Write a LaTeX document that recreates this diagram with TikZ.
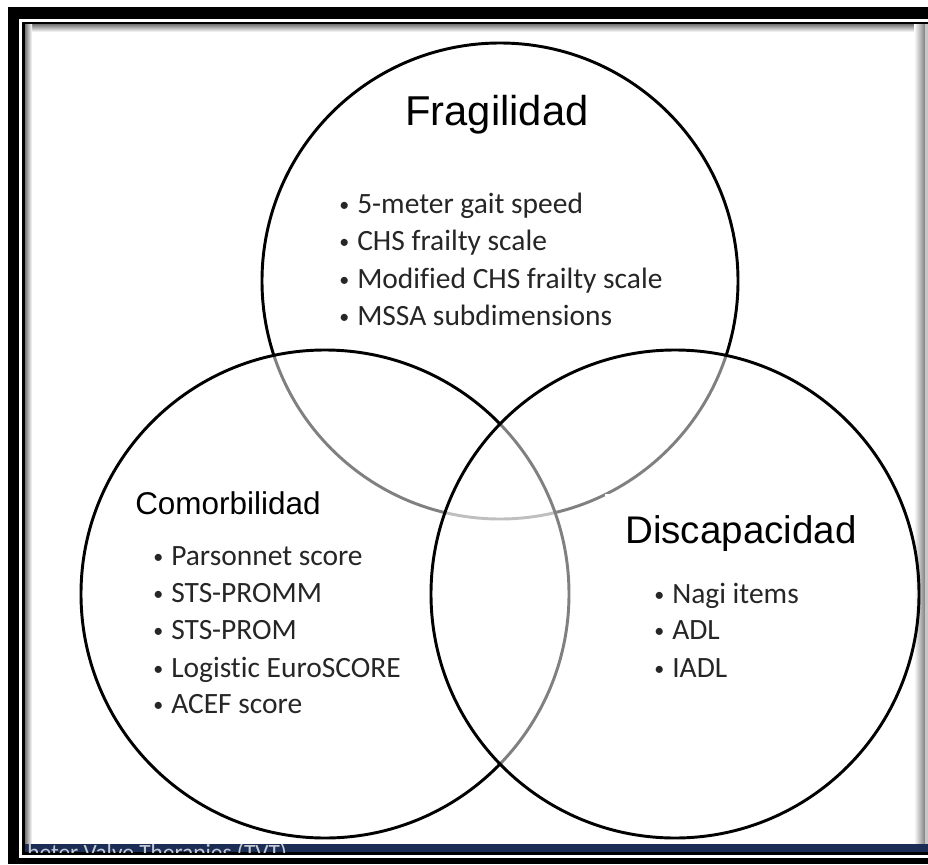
\documentclass[tikz,border=0pt]{standalone}
\usepackage{fontspec}
\setmainfont{Liberation Sans}
\newfontfamily\calfont[Ligatures=CommonOff]{Carlito}
\definecolor{navy}{RGB}{28,45,85}
\definecolor{itemtext}{RGB}{38,38,38}
\newcommand\bul{\llap{\raisebox{1.5pt}{\fontsize{15pt}{15pt}\selectfont\textbullet}\hspace{6pt}}}
\begin{document}
\begin{tikzpicture}[x=0.75pt,y=-0.75pt,
  venn/.style={circle, draw=black, line width=2.2pt, inner sep=0pt, outer sep=0pt},
  vennover/.style={venn, fill=white, fill opacity=0.5, draw opacity=1},
  titlebox/.style={anchor=base west, fill=white, inner xsep=15pt, inner ysep=#1, text=black},
  titlebox/.default=12pt,
  listitem/.style={anchor=base west, inner sep=0pt, text=itemtext, font=\calfont\fontsize{22.1pt}{26pt}\selectfont},
]
\useasboundingbox (0,0) rectangle (928,864);
\fill[white] (0,0) rectangle (928,864);
% frame
\fill[black] (8,7) rectangle (928,864);
\fill[white] (19,19) rectangle (928,858);
\fill[black] (22,22) rectangle (928,855);
\fill[white] (25,25) rectangle (928,852);
\shade[top color=black!55, bottom color=white] (25,24) rectangle (928,32);
\shade[left color=black!55, right color=white] (25,24) rectangle (32,844);
\shade[left color=white, right color=black!50] (914,24) rectangle (925,844);
\fill[black!22] (925,24) rectangle (928,844);
% footer bar
\fill[navy] (25,844) rectangle (928,852);
\begin{scope}
\clip (25,844) rectangle (928,852);
\node[anchor=base west, inner sep=0pt, text=white!75!navy, font=\calfont\fontsize{17.5pt}{20pt}\selectfont] (footer) at (27,860) {heter Valve Therapies (TVT)};
\end{scope}
% circles
\node[venn, minimum size=357pt] (frag) at (500,281) {};
\node[vennover, minimum size=366pt] (comor) at (325,594) {};
\node[vennover, minimum size=366pt] (disc) at (675,594) {};
% titles
\node[titlebox=6pt, font=\fontsize{31.3pt}{36pt}\selectfont] (tfrag) at (385,125) {Fragilidad};
\node[titlebox=13.5pt, font=\fontsize{23.6pt}{28pt}\selectfont] (tcomor) at (115,514) {Comorbilidad};
\node[titlebox=16pt, font=\fontsize{28.9pt}{34pt}\selectfont] (tdisc) at (605,543) {Discapacidad};
% lists
\node[listitem] (f1) at (357,213) {\bul 5-meter gait speed};
\node[listitem] (f2) at (357,250) {\bul CHS frailty scale};
\node[listitem] (f3) at (357,288) {\bul Modified CHS frailty scale};
\node[listitem] (f4) at (357,325) {\bul MSSA subdimensions};
\node[listitem] (c1) at (171,565) {\bul Parsonnet score};
\node[listitem] (c2) at (171,602) {\bul STS-PROMM};
\node[listitem] (c3) at (171,639) {\bul STS-PROM};
\node[listitem] (c4) at (171,677) {\bul Logistic EuroSCORE};
\node[listitem] (c5) at (171,713) {\bul ACEF score};
\node[listitem] (d1) at (672,603) {\bul Nagi items};
\node[listitem] (d2) at (672,639) {\bul ADL};
\node[listitem] (d3) at (672,677) {\bul IADL};
\end{tikzpicture}
\end{document}
